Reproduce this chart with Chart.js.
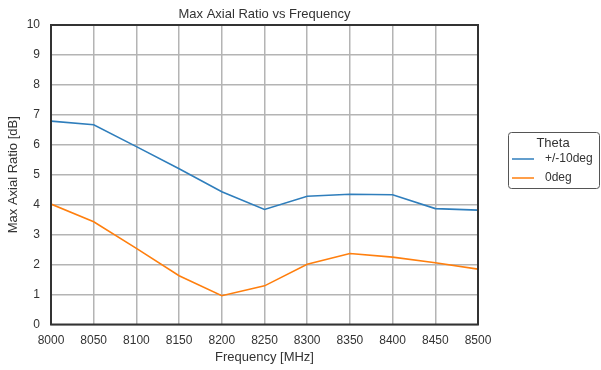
<!DOCTYPE html>
<html lang="en">
  <head>
    <meta charset="UTF-8" />
    <title>Max Axial Ratio vs Frequency</title>
    <script src="https://cdn.jsdelivr.net/npm/chart.js"></script>
    <style>
      body { margin: 0; background: #fff; }
      #wrap { width: 601px; height: 370px; }
    </style>
  </head>
  <body>
    <div id="wrap"><canvas id="myChart"></canvas></div>
    <script>
      const freqs = [8000, 8050, 8100, 8150, 8200, 8250, 8300, 8350, 8400, 8450, 8500];
      const theta10 = [6.79, 6.67, 5.94, 5.2, 4.43, 3.84, 4.28, 4.35, 4.33, 3.87, 3.82];
      const theta0 = [4.02, 3.43, 2.54, 1.63, 0.96, 1.29, 2.01, 2.37, 2.25, 2.06, 1.85];
      const seriesNames = ["+/-10deg", "0deg"];
      const yTicks = [0, 1, 2, 3, 4, 5, 6, 7, 8, 9, 10];
      const chartTitle = "Max Axial Ratio vs Frequency";

      const font = "'Liberation Sans', Arial, sans-serif";
      const textColor = "#333";

      // title over the plot, frame around it, boxed legend on the right
      const framePlugin = {
        id: "frame",
        afterDraw(chart) {
          const { ctx, chartArea: a } = chart;
          ctx.save();
          ctx.strokeStyle = "#333";
          ctx.lineWidth = 2;
          ctx.strokeRect(a.left, a.top, a.right - a.left, a.bottom - a.top);

          ctx.fillStyle = textColor;
          ctx.font = "13px " + font;
          ctx.textAlign = "center";
          ctx.textBaseline = "middle";
          ctx.fillText(chartTitle, (a.left + a.right) / 2, 14);

          // legend
          const lx = 508, ly = 132, lw = 92, lh = 57;
          ctx.strokeStyle = "#555";
          ctx.lineWidth = 1;
          ctx.beginPath();
          ctx.roundRect(lx + 0.5, ly + 0.5, lw - 1, lh - 1, 3);
          ctx.stroke();
          ctx.fillText("Theta", 553, 143);
          ctx.font = "12px " + font;
          ctx.textAlign = "left";
          chart.data.datasets.forEach((ds, i) => {
            const y = 159 + i * 19;
            ctx.strokeStyle = ds.borderColor;
            ctx.lineWidth = 1.5;
            ctx.beginPath();
            ctx.moveTo(512, y);
            ctx.lineTo(534, y);
            ctx.stroke();
            ctx.fillText(ds.label, 545, y);
          });
          ctx.restore();
        },
      };

      const ctx = document.getElementById("myChart");
      new Chart(ctx, {
        type: "line",
        data: {
          datasets: [
            {
              label: seriesNames[0],
              data: freqs.map((f, i) => ({ x: f, y: theta10[i] })),
              borderColor: "#2f7ebc",
              borderWidth: 1.6,
              pointRadius: 0,
              tension: 0,
            },
            {
              label: seriesNames[1],
              data: freqs.map((f, i) => ({ x: f, y: theta0[i] })),
              borderColor: "#ff7f0e",
              borderWidth: 1.6,
              pointRadius: 0,
              tension: 0,
            },
          ],
        },
        options: {
          responsive: true,
          maintainAspectRatio: false,
          animation: false,
          layout: { padding: { left: 6, right: 123, top: 25, bottom: 0 } },
          plugins: {
            legend: { display: false },
            tooltip: { enabled: false },
            title: { display: false },
          },
          scales: {
            x: {
              type: "linear",
              min: 8000,
              max: 8500,
              afterBuildTicks: (axis) => {
                axis.ticks = freqs.map((v) => ({ value: v }));
              },
              ticks: {
                color: textColor,
                font: { family: font, size: 12 },
                padding: 9,
                maxRotation: 0,
                autoSkip: false,
                callback: (v) => String(v),
              },
              grid: { color: "#b4b4b4", lineWidth: 1.5, drawTicks: false },
              border: { display: false },
              title: {
                display: true,
                text: "Frequency [MHz]",
                color: textColor,
                font: { family: font, size: 13 },
                padding: { top: 0, bottom: 5 },
              },
              afterFit: (axis) => {
                axis.height = 45.5;
              },
            },
            y: {
              min: 0,
              max: 10,
              afterBuildTicks: (axis) => {
                axis.ticks = yTicks.map((v) => ({ value: v }));
              },
              ticks: {
                color: textColor,
                font: { family: font, size: 12 },
                padding: 11,
              },
              grid: { color: "#b4b4b4", lineWidth: 1.5, drawTicks: false },
              border: { display: false },
              title: {
                display: true,
                text: "Max Axial Ratio [dB]",
                color: textColor,
                font: { family: font, size: 13 },
                padding: 0,
              },
              afterFit: (axis) => {
                axis.width = 45;
              },
            },
          },
        },
        plugins: [framePlugin],
      });
    </script>
  </body>
</html>
